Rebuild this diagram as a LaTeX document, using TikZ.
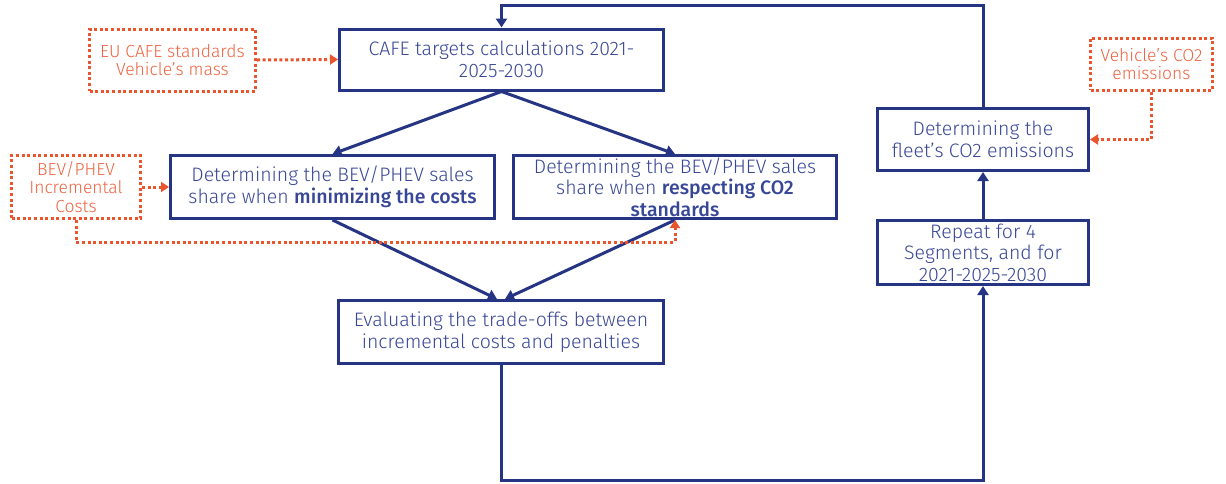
\documentclass[tikz,border=0pt]{standalone}
\usepackage{fontspec}
\setmainfont{Fira Sans Light}[BoldFont={Fira Sans Medium}]
\usetikzlibrary{arrows.meta,calc}
\definecolor{navy}{RGB}{38,52,132}
\definecolor{navytext}{RGB}{55,70,150}
\definecolor{orng}{RGB}{235,85,45}
\definecolor{orngtext}{RGB}{238,100,65}
\begin{document}
\begin{tikzpicture}[x=1pt,y=-1pt,
  txt/.style={font=\fontsize{19.5}{21.5}\selectfont, align=center, inner sep=0pt},
  box/.style={txt, draw=navy, line width=3pt, text=navytext},
  dbox/.style={txt, font=\fontsize{17.5}{18.5}\selectfont, draw=orng, line width=3pt, dash pattern=on 3pt off 2.6pt, text=orngtext},
  arr/.style={draw=navy, line width=3pt, -{Triangle[length=9pt,width=11pt]}},
  darr/.style={draw=orng, line width=3pt, dash pattern=on 3pt off 2.6pt, -{Triangle[length=8pt,width=10pt]}},
]
\useasboundingbox (0,0) rectangle (1226,483);
\fill[white] (0,0) rectangle (1226,483);

\node[box, minimum width=324pt, minimum height=61pt] (A) at (501.5,59.5) {CAFE targets calculations 2021-\\2025-2030};
\node[dbox, minimum width=166pt, minimum height=62pt] (EU) at (172.5,60) {EU CAFE standards\\Vehicle’s mass};
\node[box, minimum width=324pt, minimum height=63pt] (B) at (332.5,187) {Determining the BEV/PHEV sales\\share when \textbf{minimizing the costs}};
\node[box, minimum width=323pt, minimum height=63pt] (C) at (675,187) {Determining the BEV/PHEV sales\\share when \textbf{respecting CO2}\\\textbf{standards}};
\node[dbox, minimum width=129pt, minimum height=63pt] (I) at (76,187) {BEV/PHEV\\Incremental\\Costs};
\node[box, minimum width=325pt, minimum height=63pt] (D) at (501,332) {Evaluating the trade-offs between\\incremental costs and penalties};
\node[box, minimum width=211pt, minimum height=62pt] (E) at (983,139.5) {Determining the\\fleet’s CO2 emissions};
\node[box, minimum width=211pt, minimum height=64pt] (F) at (983,252.5) {Repeat for 4\\Segments, and for\\2021-2025-2030};
\node[dbox, minimum width=122pt, minimum height=52pt] (V) at (1151.5,64) {Vehicle’s CO2\\emissions};

\coordinate (top) at (0,5);
\coordinate (bot) at (0,480);
\coordinate (dl) at (0,242);

% solid flow
\draw[arr] (A.south) -- (B.north);
\draw[arr] (A.south) -- (C.north);
\draw[arr] (B.south) -- ([xshift=-4pt]D.north);
\draw[arr] (C.south) -- ([xshift=4pt]D.north);
\draw[arr] (D.south) -- (D.south |- bot) -| (F.south);
\draw[arr] (F.north) -- (E.south);
\draw[arr] (E.north) -- (E.north |- top) -| (A.north);

% dotted inputs
\draw[darr] (EU.east) -- (A.west);
\draw[darr] (I.east) -- (B.west);
\draw[darr] (I.south) -- (I.south |- dl) -| (C.south);
\draw[darr] (V.south) |- (E.east);
\end{tikzpicture}
\end{document}
